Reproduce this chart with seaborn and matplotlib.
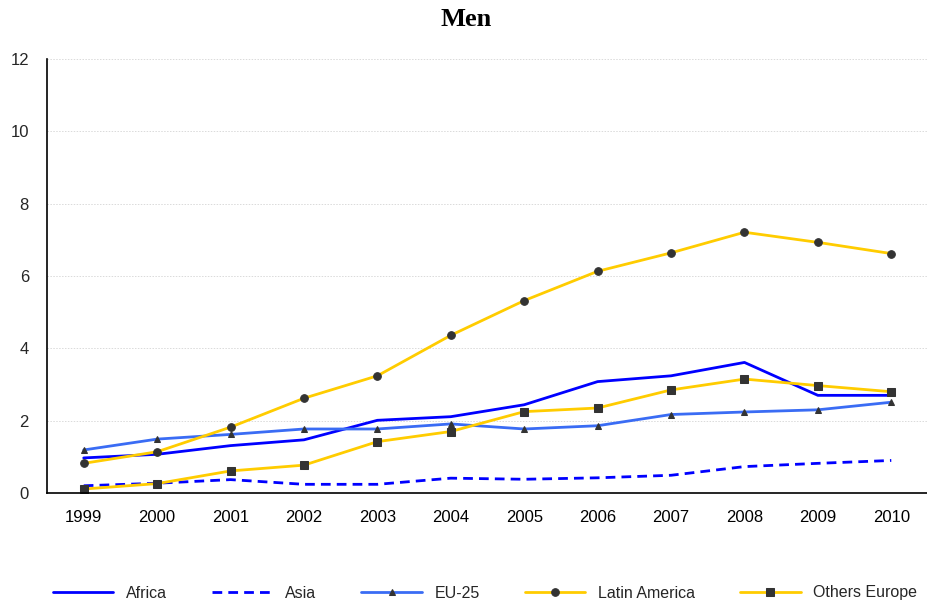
import numpy as np
import pandas as pd
import seaborn as sns
import matplotlib.pyplot as plt
from matplotlib.ticker import FixedLocator

# Datos
years = [1999, 2000, 2001, 2002, 2003, 2004, 2005, 2006, 2007, 2008, 2009, 2010]
africa = [0.97, 1.07, 1.31, 1.47, 2.01, 2.11, 2.44, 3.08, 3.24, 3.61, 2.70, 2.70]
asia = [0.20, 0.27, 0.37, 0.24, 0.24, 0.41, 0.38, 0.42, 0.49, 0.73, 0.82, 0.90]
eu25 = [1.19, 1.49, 1.62, 1.77, 1.77, 1.91, 1.77, 1.86, 2.17, 2.24, 2.30, 2.51]
latin_america = [0.82, 1.14, 1.82, 2.62, 3.24, 4.36, 5.32, 6.13, 6.64, 7.21, 6.93, 6.62]
others_europe = [0.11, 0.26, 0.61, 0.77, 1.42, 1.70, 2.25, 2.35, 2.85, 3.15, 2.97, 2.80]

series_names = ['Africa', 'Asia', 'EU-25', 'Latin America', 'Others Europe']
series_values = [africa, asia, eu25, latin_america, others_europe]

df = pd.DataFrame({'year': years})
for name, vals in zip(series_names, series_values):
    df[name] = vals
df_long = df.melt(id_vars='year', var_name='region', value_name='value')

sns.set_style('white')
plt.rcParams['font.family'] = ['Liberation Sans', 'DejaVu Sans']

estilos = {
    'Africa': dict(color='#0000FF', linestyle='-', marker=None, ms=0),
    'Asia': dict(color='#0000FF', linestyle=(0, (3.5, 2.2)), marker=None, ms=0),
    'EU-25': dict(color='#3A6CF4', linestyle='-', marker='^', ms=4.5),
    'Latin America': dict(color='#FFCC00', linestyle='-', marker='o', ms=5.5),
    'Others Europe': dict(color='#FFCC00', linestyle='-', marker='s', ms=5.5),
}

fig = plt.figure(figsize=(9.27, 6.07), dpi=100)
ax = fig.add_axes([47 / 927, 114 / 607, 881 / 927, 434 / 607])

for name in series_names:
    st = estilos[name]
    sub = df_long[df_long['region'] == name]
    sns.lineplot(data=sub, x='year', y='value', ax=ax, color=st['color'],
                 linestyle=st['linestyle'], linewidth=2.0, label=name,
                 marker=st['marker'], markersize=st['ms'],
                 markerfacecolor='#333333', markeredgecolor='#333333')

ax.set_xlim(years[0] - 0.5, years[-1] + 0.5)
ax.set_ylim(0, 12)
ax.set_yticks(np.arange(0, 13, 2))
ax.set_xticks(years)
ax.set_xticklabels([str(y) for y in years])
ax.xaxis.set_minor_locator(FixedLocator(np.arange(years[0] - 0.5, years[-1] + 1, 1)))
ax.tick_params(axis='x', which='major', length=0, pad=12, labelsize=12, colors='black')
ax.tick_params(axis='x', which='minor', length=5, color='#999999', width=1, direction='out')
ax.tick_params(axis='y', length=6, color='#999999', width=1, direction='out', pad=7, labelsize=12)
ax.set_xlabel('')
ax.set_ylabel('')

for yv in range(2, 13, 2):
    ax.axhline(yv, color='#dadada', linewidth=0.7, linestyle=(0, (1.5, 1.5)), zorder=0)

for s in ['top', 'right']:
    ax.spines[s].set_visible(False)
ax.spines['left'].set_color('black')
ax.spines['bottom'].set_color('black')
ax.spines['left'].set_linewidth(1.2)
ax.spines['bottom'].set_linewidth(1.2)

fig.text(466 / 927, 1 - 20 / 607, 'Men', ha='center', va='center', color='black',
         fontsize=19, fontweight='bold', family=['Liberation Serif', 'DejaVu Serif'])

handles, labels = ax.get_legend_handles_labels()
ax.get_legend().remove()
fig.legend(handles, labels, loc='center', bbox_to_anchor=(485 / 927, 1 - 593 / 607),
           ncol=5, frameon=False, fontsize=11.5, handlelength=3.8,
           handletextpad=0.8, columnspacing=2.8)

fig.savefig('out.png', dpi=100)
